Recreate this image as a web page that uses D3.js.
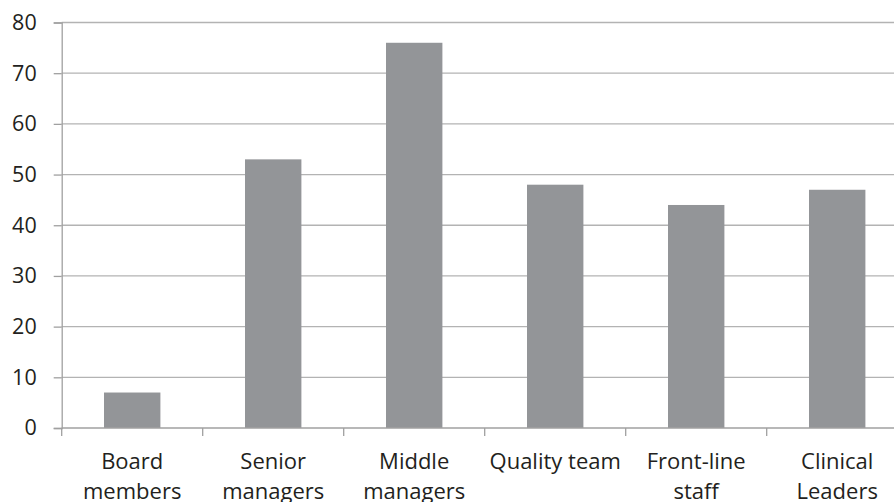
<!DOCTYPE html>
<html><head><meta charset="utf-8">
<script src="https://cdn.jsdelivr.net/npm/d3@7"></script>
<style>body{margin:0;background:#fff}svg{display:block}</style>
</head><body>
<svg id="c" width="894" height="502"></svg>
<script>
const categories = [["Board","members"],["Senior","managers"],["Middle","managers"],["Quality team"],["Front-line","staff"],["Clinical","Leaders"]];
const values = [7, 53, 76, 48, 44, 47];
const yTicks = [0,10,20,30,40,50,60,70,80];

(function(){
const svg = d3.select("#c");
const pLeft = 61.7, pRight = 907.7, pTop = 22.5, pBottom = 428;
const font = "'Open Sans', sans-serif";
const keys = categories.map(c => c.join(" "));
const x = d3.scaleBand().domain(keys).range([pLeft, pRight]).paddingInner(0.6).paddingOuter(0.3);
const y = d3.scaleLinear().domain([0, 80]).range([pBottom, pTop]);

svg.append("g").selectAll("line").data(yTicks.filter(t => t > 0)).join("line")
  .attr("x1", pLeft).attr("x2", pRight)
  .attr("y1", d => y(d)).attr("y2", d => y(d))
  .attr("stroke", "#b3b3b3").attr("stroke-width", 1.3);

svg.append("g").selectAll("rect").data(values).join("rect")
  .attr("x", (d, i) => x(keys[i])).attr("width", x.bandwidth())
  .attr("y", d => y(d)).attr("height", d => y(0) - y(d))
  .attr("fill", "#939598");

const yAxis = svg.append("g").attr("transform", `translate(${pLeft},0)`)
  .call(d3.axisLeft(y).tickValues(yTicks).tickSize(8).tickPadding(17).tickFormat(d3.format("d")));
yAxis.select(".domain").attr("stroke", "#a0a0a0").attr("stroke-width", 1.3);
yAxis.selectAll(".tick line").attr("stroke", "#a0a0a0").attr("stroke-width", 1.3);
yAxis.selectAll("text").attr("font-family", font).attr("font-size", 21.5).attr("fill", "#231f20");

const step = x.step();
const bounds = d3.range(keys.length + 1).map(i => pLeft + i * step);
svg.append("line").attr("x1", pLeft).attr("x2", pRight).attr("y1", pBottom).attr("y2", pBottom)
  .attr("stroke", "#a0a0a0").attr("stroke-width", 1.3);
svg.append("g").selectAll("line").data(bounds).join("line")
  .attr("x1", d => d).attr("x2", d => d).attr("y1", pBottom).attr("y2", pBottom + 8)
  .attr("stroke", "#a0a0a0").attr("stroke-width", 1.3);

const lbl = svg.append("g").selectAll("text").data(categories).join("text")
  .attr("x", (d, i) => x(keys[i]) + x.bandwidth() / 2)
  .attr("y", 468.5)
  .attr("text-anchor", "middle").attr("font-family", font).attr("font-size", 22).attr("fill", "#231f20");
lbl.selectAll("tspan").data(d => d).join("tspan")
  .attr("x", function() { return this.parentNode.getAttribute("x"); })
  .attr("dy", (d, i) => i === 0 ? 0 : 30)
  .text(d => d);
})();
</script>
</body></html>
